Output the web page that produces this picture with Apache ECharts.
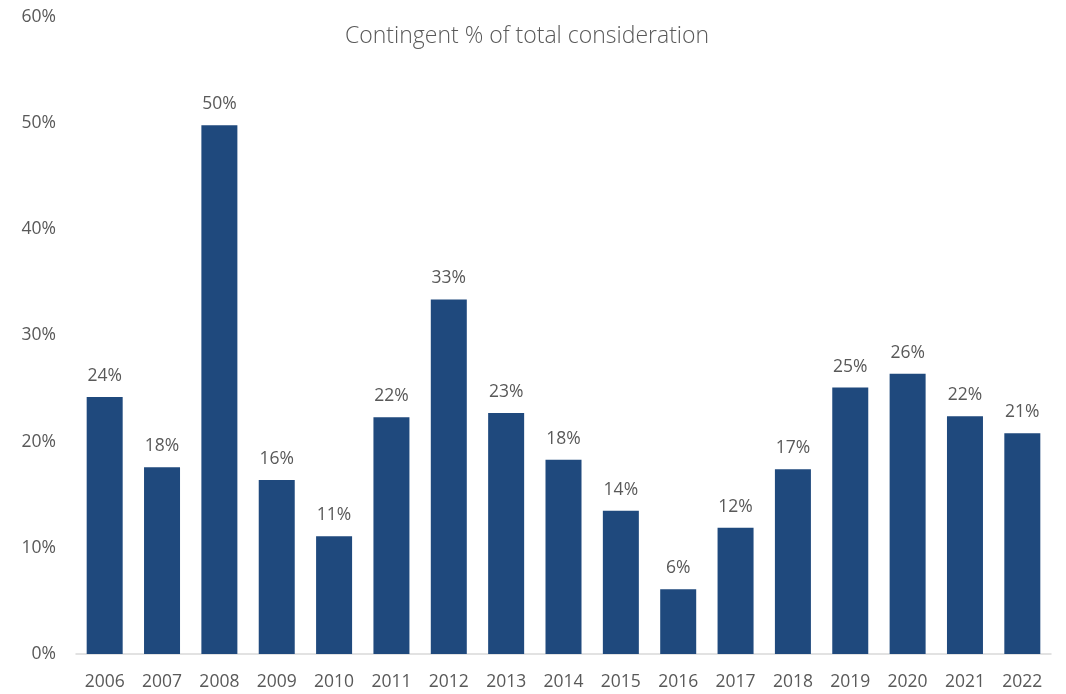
<!DOCTYPE html>
<html><head><meta charset="utf-8">
<script src="https://cdn.jsdelivr.net/npm/echarts@6/dist/echarts.min.js"></script>
<style>html,body{margin:0;padding:0;background:#fff}#c{width:1066px;height:694px}</style>
</head><body><div id="c"></div>
<script>
const years = ['2006','2007','2008','2009','2010','2011','2012','2013','2014','2015','2016','2017','2018','2019','2020','2021','2022'];
const values = [24.2,17.6,49.8,16.4,11.1,22.3,33.4,22.7,18.3,13.5,6.1,11.9,17.4,25.1,26.4,22.4,20.8];
const titleText = 'Contingent % of total consideration';
const chart = echarts.init(document.getElementById('c'));
const font = '"Open Sans", sans-serif';
chart.setOption({
  animation:false,
  title:{text:titleText,left:340,top:20,textStyle:{fontFamily:font,fontSize:23,fontWeight:300,color:'#595959'}},
  grid:{left:76,right:15,top:17,bottom:40},
  xAxis:{type:'category',data:years,axisLine:{lineStyle:{color:'#d9d9d9',width:1.5}},axisTick:{show:false},
    axisLabel:{fontFamily:font,fontSize:17.5,color:'#595959',margin:19}},
  yAxis:{type:'value',min:0,max:60,interval:10,splitLine:{show:false},axisLine:{show:false},axisTick:{show:false},
    axisLabel:{fontFamily:font,fontSize:17.5,color:'#595959',margin:20,formatter:v=>v+'%'}},
  series:[{type:'bar',data:values,barWidth:36,itemStyle:{color:'#1f497d'},
    label:{show:true,position:'top',distance:12,fontFamily:font,fontSize:17.5,color:'#595959',formatter:p=>Math.round(p.value)+'%'}}]
});
</script></body></html>
